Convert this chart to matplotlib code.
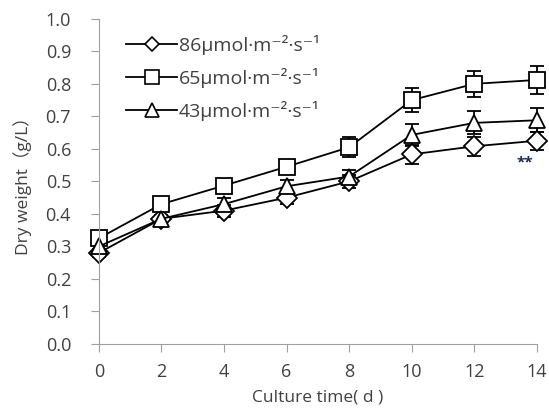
import matplotlib
matplotlib.use("Agg")
import matplotlib.pyplot as plt
from matplotlib.lines import Line2D

plt.rcParams['font.family'] = ['Open Sans', 'Noto Sans CJK SC', 'DejaVu Sans']

days = [0, 2, 4, 6, 8, 10, 12, 14]
labels = ["86μmol·m⁻²·s⁻¹", "65μmol·m⁻²·s⁻¹", "43μmol·m⁻²·s⁻¹"]
dw_86 = [0.280, 0.385, 0.410, 0.450, 0.500, 0.583, 0.608, 0.625]
dw_65 = [0.325, 0.430, 0.487, 0.545, 0.605, 0.750, 0.800, 0.812]
dw_43 = [0.300, 0.385, 0.430, 0.485, 0.515, 0.643, 0.680, 0.688]
err_86 = [0.012, 0.012, 0.018, 0.018, 0.020, 0.030, 0.030, 0.028]
err_65 = [0.012, 0.012, 0.018, 0.018, 0.030, 0.037, 0.040, 0.042]
err_43 = [0.012, 0.012, 0.018, 0.018, 0.020, 0.035, 0.035, 0.037]
markers = ['D', 's', '^']
msizes = [10, 12, 12]
leg_msizes = [7.5, 10, 10]

fig = plt.figure(figsize=(5.49, 4.09), dpi=100)
ax = fig.add_axes([0.18, 0.159, 0.798, 0.795])

handles = []
for y, e, m, ms, lms, lab in zip([dw_86, dw_65, dw_43], [err_86, err_65, err_43],
                                 markers, msizes, leg_msizes, labels):
    cont = ax.errorbar(days, y, yerr=e, color='black', marker=m, markersize=ms,
                       markerfacecolor='white', markeredgecolor='black',
                       markeredgewidth=1.3, linewidth=1.3, capsize=5,
                       elinewidth=1.3, capthick=1.3)
    line, caps, bars = cont
    line.set_clip_on(False)
    for c in caps:
        c.set_clip_on(False)
    for b in bars:
        b.set_clip_on(False)
    handles.append(Line2D([], [], color='black', linewidth=1.3, marker=m,
                          markersize=lms, markerfacecolor='white',
                          markeredgecolor='black', markeredgewidth=1.2,
                          label=lab))

ax.text(13.6, 0.557, "**", ha='center', va='center', fontsize=11,
        color='#1a2a50', fontweight='bold')

ax.set_xlim(0, 14)
ax.set_ylim(0, 1.0)
ax.set_xticks(days)
ax.set_yticks([i / 10 for i in range(11)])
ax.set_yticklabels([f"{i/10:.1f}" for i in range(11)])
for s in ['top', 'right']:
    ax.spines[s].set_visible(False)
for s in ['left', 'bottom']:
    ax.spines[s].set_color('#a0a0a0')
ax.tick_params(axis='both', colors='#a0a0a0', labelcolor='#404040',
               labelsize=13, length=6, direction='out')
ax.tick_params(axis='x', pad=8)
ax.tick_params(axis='y', pad=14)
ax.set_xlabel("Culture time( d )", fontsize=12.5, color='#404040', labelpad=6)
ax.set_ylabel("Dry weight（g/L）", fontsize=12.5, color='#404040', labelpad=10)

leg = ax.legend(handles=handles, loc='upper left', bbox_to_anchor=(0.045, 0.975),
                frameon=False, fontsize=14, handlelength=2.6, labelspacing=0.68,
                handletextpad=0.1, borderaxespad=0)
for t in leg.get_texts():
    t.set_color('#404040')

fig.savefig("out.png", dpi=100)
